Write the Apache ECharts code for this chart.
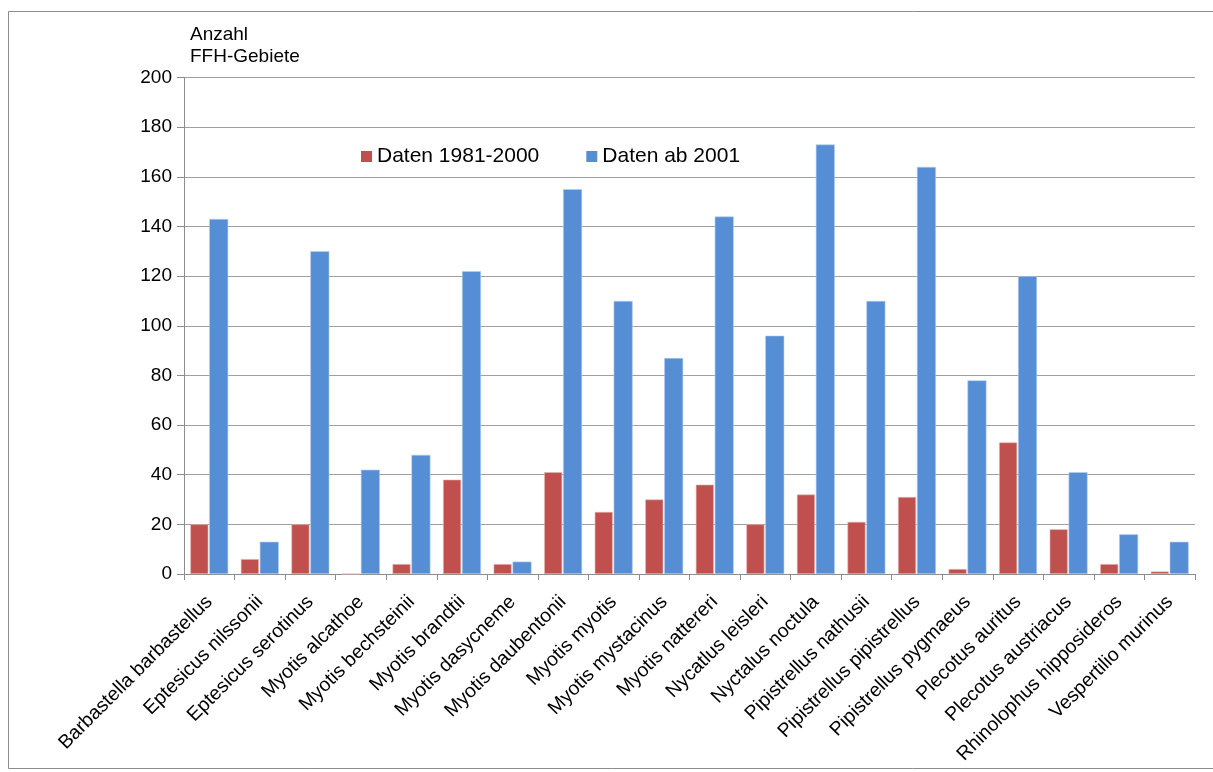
<!DOCTYPE html>
<html>
<head>
<meta charset="utf-8">
<script src="https://cdn.jsdelivr.net/npm/echarts@6/dist/echarts.min.js"></script>
<style>
  html, body { margin: 0; padding: 0; background: #fff; }
  #chart { width: 1213px; height: 772px; }
</style>
</head>
<body>
<div id="chart"></div>
<script>
// Fledermausarten in FFH-Gebieten: Anzahl Gebiete mit Nachweisen
const species = [
  'Barbastella barbastellus', 'Eptesicus nilssonii', 'Eptesicus serotinus',
  'Myotis alcathoe', 'Myotis bechsteinii', 'Myotis brandtii', 'Myotis dasycneme',
  'Myotis daubentonii', 'Myotis myotis', 'Myotis mystacinus', 'Myotis nattereri',
  'Nycatlus leisleri', 'Nyctalus noctula', 'Pipistrellus nathusii',
  'Pipistrellus pipistrellus', 'Pipistrellus pygmaeus', 'Plecotus auritus',
  'Plecotus austriacus', 'Rhinolophus hipposideros', 'Vespertilio murinus'
];
const data1981to2000 = [20, 6, 20, 0, 4, 38, 4, 41, 25, 30, 36, 20, 32, 21, 31, 2, 53, 18, 4, 1];
const dataFrom2001   = [143, 13, 130, 42, 48, 122, 5, 155, 110, 87, 144, 96, 173, 110, 164, 78, 120, 41, 16, 13];
const seriesNames = ['Daten 1981-2000', 'Daten ab 2001'];
const yTicks = { min: 0, max: 200, interval: 20 };

const FONT = '"Liberation Sans", Arial, sans-serif';
const chart = echarts.init(document.getElementById('chart'));

chart.setOption({
  backgroundColor: '#ffffff',
  textStyle: { fontFamily: FONT, color: '#000' },
  animation: false,
  graphic: [
    {
      type: 'rect',
      left: 6, top: 9,
      shape: { width: 1206, height: 757 },
      style: { fill: 'none', stroke: '#8c8c8c', lineWidth: 1 },
      silent: true
    },
    {
      type: 'text',
      left: 190, top: 24,
      style: {
        text: 'Anzahl\nFFH-Gebiete',
        font: '19px ' + FONT,
        fill: '#000',
        lineHeight: 22
      }
    }
  ],
  legend: {
    data: seriesNames,
    left: 356, top: 141,
    itemWidth: 11, itemHeight: 11,
    itemGap: 47,
    icon: 'rect',
    itemStyle: { borderWidth: 0 },
    textStyle: { fontSize: 21, color: '#000', fontFamily: FONT }
  },
  grid: { left: 184, right: 18, top: 77.5, bottom: 198, containLabel: false },
  xAxis: {
    type: 'category',
    data: species,
    boundaryGap: true,
    axisLine: { show: true, lineStyle: { color: '#8c8c8c', width: 1 } },
    axisTick: { show: true, length: 6, alignWithLabel: false, lineStyle: { color: '#8c8c8c' } },
    axisLabel: {
      interval: 0, rotate: 45, fontSize: 19.5, color: '#000',
      fontFamily: FONT, margin: 25
    },
    splitLine: { show: false }
  },
  yAxis: {
    type: 'value',
    min: yTicks.min, max: yTicks.max, interval: yTicks.interval,
    axisLine: { show: true, lineStyle: { color: '#8c8c8c', width: 1 } },
    axisTick: { show: true, length: 7, inside: false, lineStyle: { color: '#8c8c8c' } },
    axisLabel: { fontSize: 19, color: '#000', fontFamily: FONT, margin: 12 },
    splitLine: { show: true, lineStyle: { color: '#a0a0a0', width: 1.2 } }
  },
  series: [
    {
      name: seriesNames[0],
      type: 'bar',
      data: data1981to2000,
      barWidth: 18,
      barGap: '5%',
      itemStyle: { color: '#C0504D', borderColor: '#e3b5b4', borderWidth: 0.6 }
    },
    {
      name: seriesNames[1],
      type: 'bar',
      data: dataFrom2001,
      barWidth: 19,
      itemStyle: { color: '#558ED5', borderColor: '#b6cdef', borderWidth: 0.6 }
    }
  ]
});
</script>
</body>
</html>
